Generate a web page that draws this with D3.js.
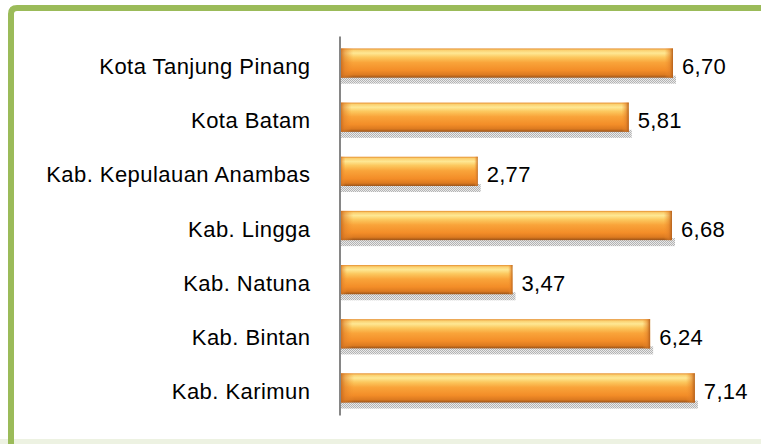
<!DOCTYPE html>
<html>
<head>
<meta charset="utf-8">
<script src="https://cdn.jsdelivr.net/npm/d3@7"></script>
<style>
html,body{margin:0;padding:0;background:#fff;}
svg{display:block;}
text{font-family:"Liberation Sans",Arial,sans-serif;fill:#000;}
</style>
</head>
<body>
<div id="chart"></div>
<script>
const categories = ["Kota Tanjung Pinang","Kota Batam","Kab. Kepulauan Anambas","Kab. Lingga","Kab. Natuna","Kab. Bintan","Kab. Karimun"];
const values = [6.70, 5.81, 2.77, 6.68, 3.47, 6.24, 7.14];
const valueLabels = ["6,70","5,81","2,77","6,68","3,47","6,24","7,14"];

const W = 761, H = 444;
const svg = d3.select("#chart").append("svg").attr("width", W).attr("height", H);
const defs = svg.append("defs");

// vertical bar gradient
const vg = defs.append("linearGradient").attr("id","barV").attr("x1",0).attr("y1",0).attr("x2",0).attr("y2",1);
[[0,"#e48b2a"],[0.06,"#fbd070"],[0.16,"#fee894"],[0.3,"#fcc85e"],[0.48,"#f9a43a"],[0.75,"#f38d28"],[0.9,"#dc7a20"],[1,"#9a5318"]]
  .forEach(([o,c])=>vg.append("stop").attr("offset",o).attr("stop-color",c));
// horizontal bevel overlay
const hg = defs.append("linearGradient").attr("id","barH").attr("x1",0).attr("y1",0).attr("x2",1).attr("y2",0);
hg.append("stop").attr("offset",0).attr("stop-color","#c0621a").attr("stop-opacity",0.95);
hg.append("stop").attr("offset",0.015).attr("stop-color","#e07f28").attr("stop-opacity",0.55);
hg.append("stop").attr("offset",0.04).attr("stop-color","#f29030").attr("stop-opacity",0);
hg.append("stop").attr("offset",0.975).attr("stop-color","#f29030").attr("stop-opacity",0);
hg.append("stop").attr("offset",0.99).attr("stop-color","#e07f28").attr("stop-opacity",0.55);
hg.append("stop").attr("offset",1).attr("stop-color","#b05c1a").attr("stop-opacity",0.95);
// shadow dotted pattern
const pat = defs.append("pattern").attr("id","dots").attr("width",2).attr("height",2).attr("patternUnits","userSpaceOnUse");
pat.append("rect").attr("width",2).attr("height",2).attr("fill","#e4e4e4");
pat.append("rect").attr("width",1).attr("height",1).attr("fill","#a0a0a0");
pat.append("rect").attr("x",1).attr("y",1).attr("width",1).attr("height",1).attr("fill","#a0a0a0");

// frame
svg.append("rect").attr("x",0).attr("y",439).attr("width",W).attr("height",5).attr("fill","#edf2e2");
svg.append("path")
  .attr("d","M11,444 L11,14 Q11,8 17,8 L765,8")
  .attr("fill","none").attr("stroke","#9bbb59").attr("stroke-width",6);

const x = d3.scaleLinear().domain([0,8]).range([340, 737.6]);
const y = d3.scaleBand().domain(categories).range([36, 415]).paddingInner(0.46).paddingOuter(0.23);

// shadows
svg.append("g").selectAll("rect").data(categories).join("rect")
  .attr("x", x(0)+1)
  .attr("y", d => y(d) + y.bandwidth() - 2)
  .attr("width", (d,i) => x(values[i]) - x(0) + 2)
  .attr("height", 8)
  .attr("fill","url(#dots)")
  .attr("opacity",0.8);

// bars
const bars = svg.append("g");
bars.selectAll("rect.b").data(categories).join("rect").attr("class","b")
  .attr("x", x(0))
  .attr("y", d => y(d))
  .attr("width", (d,i) => x(values[i]) - x(0))
  .attr("height", y.bandwidth())
  .attr("fill","url(#barV)");
bars.selectAll("rect.h").data(categories).join("rect").attr("class","h")
  .attr("x", x(0))
  .attr("y", d => y(d))
  .attr("width", (d,i) => x(values[i]) - x(0))
  .attr("height", y.bandwidth())
  .attr("fill","url(#barH)");

// axis
const yAxis = d3.axisLeft(y).tickSize(0).tickPadding(29);
const ag = svg.append("g").attr("transform",`translate(${x(0)-0.5},0)`).call(yAxis);
ag.select(".domain").attr("stroke","#868686").attr("stroke-width",2);
ag.selectAll(".tick text")
  .attr("font-size",22).attr("letter-spacing","0.45px")
  .attr("dy","0.5em")
  .style("font-family","'Liberation Sans',Arial,sans-serif")
  .attr("fill","#000");

// value labels
svg.append("g").selectAll("text").data(categories).join("text")
  .attr("x", (d,i) => x(values[i]) + 9)
  .attr("y", d => y(d) + y.bandwidth()/2)
  .attr("dy","0.5em")
  .attr("font-size",22).attr("letter-spacing","0.3px")
  .text((d,i) => valueLabels[i]);
</script>
</body>
</html>
